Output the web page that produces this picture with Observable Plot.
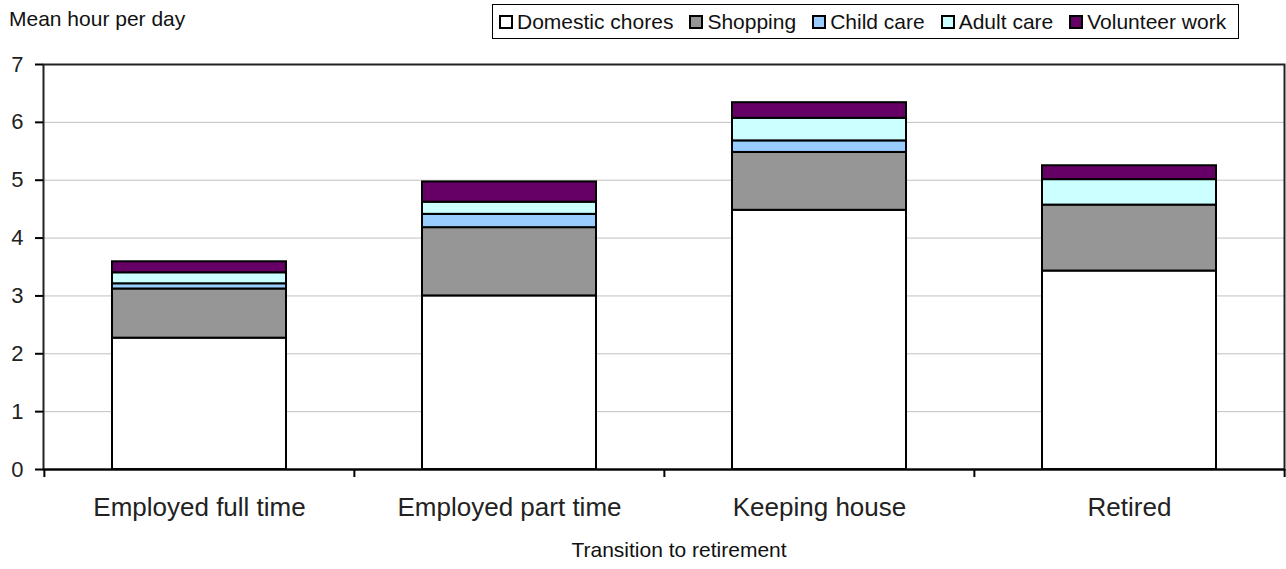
<!DOCTYPE html>
<html>
<head>
<meta charset="utf-8">
<script src="https://cdn.jsdelivr.net/npm/d3@7"></script>
<script src="https://cdn.jsdelivr.net/npm/@observablehq/plot@0.6"></script>
<style>
  html, body { margin: 0; padding: 0; background: #fff; }
  body { font-family: "Liberation Sans", Arial, sans-serif; }
  #wrap { position: relative; width: 1286px; height: 569px; overflow: hidden; }
  #head { position: relative; width: 1286px; height: 44px; }
  #ytitle { position: absolute; left: 9px; top: 8px; font-size: 21px; line-height: 21px; color: #111; white-space: nowrap; }
  #legend { position: absolute; left: 492px; top: 4px; width: 739px; height: 33px; border: 1px solid #000;
            display: flex; align-items: center; padding-left: 6px; box-sizing: content-box; }
  .item { display: flex; align-items: center; margin-right: 16px; font-size: 21px; color: #111; white-space: nowrap; }
  .sw { width: 10px; height: 10px; border: 2px solid #000; margin-right: 4px; }
</style>
</head>
<body>
<div id="wrap">
  <div id="head">
    <div id="ytitle"></div>
    <div id="legend"></div>
  </div>
  <div id="chart"></div>
</div>
<script>
// Mean hours per day spent on unpaid work, by employment status
const categories = ["Employed full time", "Employed part time", "Keeping house", "Retired"];
const activities = ["Domestic chores", "Shopping", "Child care", "Adult care", "Volunteer work"];
const domesticChores = [2.27, 3.00, 4.48, 3.43];
const shopping       = [0.85, 1.18, 1.00, 1.14];
const childCare      = [0.09, 0.23, 0.20, 0.00];
const adultCare      = [0.19, 0.21, 0.39, 0.44];
const volunteerWork  = [0.19, 0.35, 0.27, 0.24];
const yTicks = [0, 1, 2, 3, 4, 5, 6, 7];
const gridTicks = [1, 2, 3, 4, 5, 6];
const yTitle = "Mean hour per day";
const xTitle = "Transition to retirement";

const colors = ["#ffffff", "#969696", "#99ccff", "#ccffff", "#660066"];
const series = [domesticChores, shopping, childCare, adultCare, volunteerWork];

// long-format table: one row per (category, activity)
const rows = [];
activities.forEach((a, k) => {
  categories.forEach((c, i) => rows.push({category: c, activity: a, hours: series[k][i]}));
});

// header: y title and legend
document.getElementById("ytitle").textContent = yTitle;
const legend = document.getElementById("legend");
activities.forEach((a, k) => {
  const it = document.createElement("div");
  it.className = "item";
  const sw = document.createElement("div");
  sw.className = "sw";
  sw.style.background = colors[k];
  const tx = document.createElement("span");
  tx.textContent = a;
  it.appendChild(sw);
  it.appendChild(tx);
  legend.appendChild(it);
});

const W = 1286, H = 525;
const mL = 43, mR = 2, mT = 20, mB = 100;
const step = (W - mL - mR) / categories.length;

const chart = Plot.plot({
  width: W,
  height: H,
  marginLeft: mL,
  marginRight: mR,
  marginTop: mT,
  marginBottom: mB,
  style: {fontFamily: "\"Liberation Sans\", Arial, sans-serif", color: "#000", background: "#fff", overflow: "visible"},
  x: {domain: categories, paddingInner: 0.44, paddingOuter: 0.22, axis: null},
  y: {domain: [0, 7], axis: null},
  color: {domain: activities, range: colors, legend: false},
  marks: [
    Plot.ruleY(gridTicks, {stroke: "#c0c0c0", strokeWidth: 1}),
    Plot.barY(rows, {
      x: "category", y: "hours", fill: "activity", order: activities,
      stroke: "#000", strokeWidth: 2
    }),
    Plot.frame({stroke: "#222", strokeWidth: 2}),
    Plot.ruleY([0], {stroke: "#000", strokeWidth: 2}),
    Plot.axisY(yTicks, {
      anchor: "left", tickSize: 8, tickPadding: 12, fontSize: 22,
      tickFormat: d3.format("d"), strokeWidth: 2, fill: "#222", label: null
    }),
    Plot.axisX(categories, {
      anchor: "bottom", tickSize: 0, tickPadding: 28, fontSize: 26,
      fill: "#222", label: null
    }),
    // category boundary ticks below the axis
    Plot.ruleX(categories, {x: d => d, dx: -step / 2, y1: 0, y2: 0, insetBottom: -8, stroke: "#000", strokeWidth: 2}),
    Plot.ruleX(categories.slice(-1), {x: d => d, dx: step / 2, y1: 0, y2: 0, insetBottom: -8, stroke: "#000", strokeWidth: 2}),
    Plot.text([xTitle], {
      text: d => d, frameAnchor: "bottom", dy: 87, dx: 15,
      fontSize: 21, fill: "#111"
    })
  ]
});
document.getElementById("chart").appendChild(chart);
</script>
</body>
</html>
